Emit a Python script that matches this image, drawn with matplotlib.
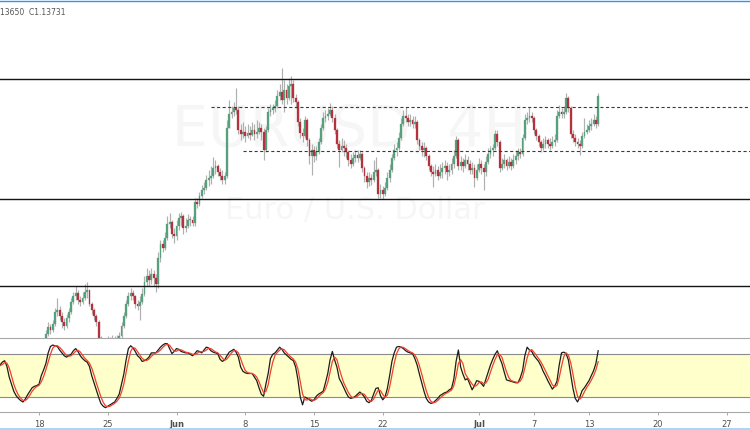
import numpy as np
import pandas as pd
import matplotlib
matplotlib.use("Agg")
import matplotlib.pyplot as plt
from matplotlib.lines import Line2D

# ---------------- data (EUR/USD, 4H bars, weekends skipped) ----------------
first_bar_day = "2020-05-13"
bars_per_day = 6
first_open = 1.0850

closes = [
    1.0855, 1.0858, 1.0862, 1.0850, 1.0838, 1.0822, 1.0808, 1.0795, 1.0788, 1.0792,
    1.0800, 1.0806, 1.0812, 1.0818, 1.0822, 1.0815, 1.0820, 1.0818,
    1.0888, 1.0892, 1.0896, 1.0910, 1.0924, 1.0918, 1.0930, 1.0954, 1.0958, 1.0946,
    1.0934, 1.0926, 1.0942, 1.0954, 1.0974, 1.0986, 1.0992, 1.0978, 1.0974, 1.0982,
    1.0994, 1.0998, 1.0970, 1.0958, 1.0946, 1.0934, 1.0902, 1.0890, 1.0886, 1.0882,
    1.0888, 1.0886, 1.0892, 1.0890, 1.0894, 1.0906, 1.0926, 1.0946, 1.0970, 1.0986,
    1.0992, 1.0986, 1.0970, 1.0966, 1.0974, 1.0990, 1.1014, 1.1026, 1.1018, 1.1030,
    1.1022, 1.1010, 1.1062, 1.1090, 1.1082, 1.1102, 1.1130, 1.1134, 1.1110, 1.1106,
    1.1126, 1.1142, 1.1146, 1.1122, 1.1126, 1.1138, 1.1138, 1.1132, 1.1174, 1.1170,
    1.1186, 1.1198, 1.1202, 1.1218, 1.1222, 1.1226, 1.1242, 1.1246, 1.1234, 1.1226,
    1.1218, 1.1226, 1.1322, 1.1350, 1.1354, 1.1362, 1.1358, 1.1318, 1.1310, 1.1314,
    1.1306, 1.1312, 1.1308, 1.1318, 1.1310, 1.1314, 1.1322, 1.1314, 1.1278, 1.1318,
    1.1354, 1.1358, 1.1362, 1.1366, 1.1386, 1.1394, 1.1378, 1.1398, 1.1382, 1.1406,
    1.1410, 1.1382, 1.1374, 1.1334, 1.1312, 1.1306, 1.1338, 1.1298, 1.1266, 1.1278,
    1.1266, 1.1274, 1.1294, 1.1322, 1.1342, 1.1346, 1.1350, 1.1358, 1.1342, 1.1318,
    1.1290, 1.1278, 1.1286, 1.1282, 1.1274, 1.1258, 1.1250, 1.1262, 1.1268, 1.1262,
    1.1270, 1.1242, 1.1226, 1.1214, 1.1222, 1.1218, 1.1234, 1.1238, 1.1190, 1.1198,
    1.1190, 1.1202, 1.1222, 1.1238, 1.1262, 1.1278, 1.1282, 1.1302, 1.1330, 1.1346,
    1.1342, 1.1334, 1.1338, 1.1330, 1.1334, 1.1298, 1.1286, 1.1278, 1.1282, 1.1266,
    1.1246, 1.1234, 1.1230, 1.1238, 1.1226, 1.1234, 1.1242, 1.1246, 1.1234, 1.1238,
    1.1250, 1.1266, 1.1298, 1.1246, 1.1254, 1.1246, 1.1258, 1.1250, 1.1238, 1.1242,
    1.1222, 1.1238, 1.1250, 1.1242, 1.1234, 1.1254, 1.1270, 1.1278, 1.1282, 1.1310,
    1.1294, 1.1242, 1.1250, 1.1258, 1.1246, 1.1254, 1.1246, 1.1258, 1.1266, 1.1274,
    1.1270, 1.1302, 1.1338, 1.1342, 1.1346, 1.1342, 1.1318, 1.1306, 1.1294, 1.1282,
    1.1290, 1.1298, 1.1290, 1.1286, 1.1294, 1.1298, 1.1346, 1.1354, 1.1350, 1.1354,
    1.1382, 1.1362, 1.1310, 1.1302, 1.1294, 1.1290, 1.1286, 1.1306, 1.1314, 1.1318,
    1.1326, 1.1330, 1.1338, 1.1330, 1.1386,
]

highs = [
    1.0862, 1.0866, 1.0870, 1.0865, 1.0852, 1.0840, 1.0825, 1.0812, 1.0800, 1.0800,
    1.0808, 1.0812, 1.0822, 1.0828, 1.0832, 1.0830, 1.0828, 1.0826,
    1.0896, 1.0898, 1.0900, 1.0918, 1.0934, 1.0930, 1.0938, 1.0962, 1.0982, 1.0966,
    1.0954, 1.0942, 1.0950, 1.0962, 1.0982, 1.0994, 1.1006, 1.0998, 1.0986, 1.0994,
    1.1010, 1.1014, 1.0998, 1.0974, 1.0962, 1.0950, 1.0938, 1.0906, 1.0902, 1.0898,
    1.0906, 1.0904, 1.0908, 1.0906, 1.0908, 1.0914, 1.0934, 1.0954, 1.0978, 1.0994,
    1.1002, 1.0998, 1.0988, 1.0978, 1.0986, 1.1002, 1.1026, 1.1042, 1.1038, 1.1042,
    1.1038, 1.1030, 1.1074, 1.1098, 1.1098, 1.1114, 1.1146, 1.1152, 1.1138, 1.1122,
    1.1138, 1.1152, 1.1154, 1.1150, 1.1142, 1.1150, 1.1146, 1.1146, 1.1182, 1.1182,
    1.1194, 1.1208, 1.1214, 1.1228, 1.1238, 1.1246, 1.1264, 1.1258, 1.1250, 1.1242,
    1.1238, 1.1234, 1.1338, 1.1378, 1.1366, 1.1374, 1.1402, 1.1366, 1.1330, 1.1334,
    1.1326, 1.1330, 1.1326, 1.1334, 1.1330, 1.1338, 1.1334, 1.1330, 1.1322, 1.1326,
    1.1362, 1.1370, 1.1370, 1.1378, 1.1398, 1.1410, 1.1442, 1.1418, 1.1410, 1.1422,
    1.1426, 1.1418, 1.1390, 1.1378, 1.1342, 1.1322, 1.1346, 1.1342, 1.1302, 1.1290,
    1.1286, 1.1286, 1.1302, 1.1330, 1.1354, 1.1358, 1.1362, 1.1372, 1.1366, 1.1350,
    1.1322, 1.1298, 1.1302, 1.1298, 1.1290, 1.1278, 1.1270, 1.1274, 1.1278, 1.1278,
    1.1278, 1.1274, 1.1246, 1.1234, 1.1234, 1.1230, 1.1258, 1.1264, 1.1242, 1.1210,
    1.1206, 1.1214, 1.1234, 1.1250, 1.1270, 1.1290, 1.1294, 1.1314, 1.1342, 1.1358,
    1.1364, 1.1350, 1.1350, 1.1346, 1.1346, 1.1338, 1.1302, 1.1294, 1.1294, 1.1286,
    1.1270, 1.1250, 1.1246, 1.1250, 1.1246, 1.1250, 1.1254, 1.1258, 1.1254, 1.1250,
    1.1262, 1.1278, 1.1306, 1.1302, 1.1266, 1.1262, 1.1270, 1.1266, 1.1258, 1.1254,
    1.1250, 1.1250, 1.1262, 1.1258, 1.1250, 1.1266, 1.1282, 1.1286, 1.1290, 1.1318,
    1.1318, 1.1298, 1.1262, 1.1270, 1.1262, 1.1266, 1.1262, 1.1270, 1.1278, 1.1282,
    1.1282, 1.1310, 1.1350, 1.1354, 1.1364, 1.1354, 1.1346, 1.1322, 1.1310, 1.1298,
    1.1302, 1.1306, 1.1302, 1.1302, 1.1306, 1.1310, 1.1358, 1.1368, 1.1362, 1.1366,
    1.1392, 1.1386, 1.1366, 1.1318, 1.1310, 1.1302, 1.1298, 1.1314, 1.1342, 1.1330,
    1.1338, 1.1342, 1.1350, 1.1346, 1.1392,
]

lows = [
    1.0848, 1.0850, 1.0852, 1.0845, 1.0830, 1.0815, 1.0800, 1.0785, 1.0776, 1.0780,
    1.0787, 1.0795, 1.0802, 1.0806, 1.0810, 1.0808, 1.0810, 1.0810,
    1.0878, 1.0882, 1.0886, 1.0894, 1.0906, 1.0910, 1.0914, 1.0926, 1.0946, 1.0938,
    1.0922, 1.0918, 1.0922, 1.0934, 1.0950, 1.0970, 1.0978, 1.0970, 1.0966, 1.0970,
    1.0978, 1.0982, 1.0966, 1.0950, 1.0938, 1.0926, 1.0894, 1.0882, 1.0878, 1.0874,
    1.0878, 1.0878, 1.0882, 1.0880, 1.0884, 1.0888, 1.0902, 1.0922, 1.0942, 1.0966,
    1.0978, 1.0978, 1.0962, 1.0958, 1.0938, 1.0970, 1.0986, 1.1006, 1.1006, 1.1010,
    1.1006, 1.0994, 1.1002, 1.1054, 1.1074, 1.1078, 1.1098, 1.1122, 1.1102, 1.1092,
    1.1098, 1.1118, 1.1126, 1.1110, 1.1114, 1.1122, 1.1126, 1.1126, 1.1126, 1.1162,
    1.1166, 1.1182, 1.1190, 1.1198, 1.1206, 1.1210, 1.1222, 1.1230, 1.1226, 1.1218,
    1.1210, 1.1210, 1.1222, 1.1326, 1.1342, 1.1346, 1.1350, 1.1310, 1.1298, 1.1302,
    1.1294, 1.1302, 1.1298, 1.1306, 1.1298, 1.1302, 1.1310, 1.1298, 1.1258, 1.1274,
    1.1314, 1.1346, 1.1350, 1.1354, 1.1362, 1.1378, 1.1370, 1.1354, 1.1370, 1.1378,
    1.1370, 1.1374, 1.1362, 1.1326, 1.1302, 1.1294, 1.1302, 1.1286, 1.1250, 1.1228,
    1.1254, 1.1258, 1.1270, 1.1290, 1.1318, 1.1334, 1.1338, 1.1346, 1.1334, 1.1310,
    1.1282, 1.1244, 1.1274, 1.1266, 1.1262, 1.1246, 1.1242, 1.1246, 1.1254, 1.1254,
    1.1258, 1.1234, 1.1214, 1.1202, 1.1206, 1.1208, 1.1214, 1.1226, 1.1182, 1.1182,
    1.1180, 1.1186, 1.1198, 1.1214, 1.1234, 1.1258, 1.1266, 1.1278, 1.1298, 1.1326,
    1.1334, 1.1326, 1.1326, 1.1322, 1.1322, 1.1290, 1.1278, 1.1266, 1.1264, 1.1258,
    1.1238, 1.1226, 1.1204, 1.1226, 1.1218, 1.1222, 1.1222, 1.1230, 1.1218, 1.1226,
    1.1230, 1.1242, 1.1262, 1.1238, 1.1238, 1.1234, 1.1242, 1.1238, 1.1230, 1.1230,
    1.1204, 1.1218, 1.1234, 1.1230, 1.1198, 1.1226, 1.1250, 1.1262, 1.1266, 1.1278,
    1.1286, 1.1234, 1.1238, 1.1242, 1.1238, 1.1242, 1.1238, 1.1242, 1.1250, 1.1258,
    1.1262, 1.1266, 1.1298, 1.1330, 1.1334, 1.1334, 1.1310, 1.1298, 1.1286, 1.1274,
    1.1278, 1.1282, 1.1282, 1.1278, 1.1282, 1.1286, 1.1294, 1.1342, 1.1342, 1.1342,
    1.1350, 1.1354, 1.1302, 1.1294, 1.1286, 1.1282, 1.1268, 1.1282, 1.1302, 1.1310,
    1.1314, 1.1318, 1.1326, 1.1322, 1.1326,
]

stoch_k = [
    63, 65, 69, 71, 63, 48, 38, 28, 22, 18, 15, 13, 17, 23, 28, 33, 35, 36,
    38, 50, 58, 67, 82, 91, 93, 92, 91, 86,
    82, 78, 76, 78, 80, 85, 88, 84, 78, 74,
    71, 69, 63, 50, 40, 30, 20, 11, 7, 5,
    7, 9, 11, 13, 18, 24, 38, 52, 72, 88,
    92, 89, 84, 78, 75, 70, 71, 73, 76, 82,
    82, 82, 86, 90, 93, 95, 95, 88, 81, 84,
    88, 87, 84, 83, 82, 82, 80, 78, 81, 85,
    84, 82, 86, 90, 89, 85, 83, 82, 81, 73,
    70, 72, 78, 83, 85, 87, 83, 76, 62, 56,
    54, 53, 53, 53, 48, 43, 33, 24, 21, 38,
    53, 74, 80, 82, 86, 90, 87, 82, 79, 76,
    73, 71, 62, 44, 20, 9, 20, 18, 16, 14,
    16, 21, 24, 26, 28, 40, 53, 72, 84, 72,
    62, 46, 40, 33, 26, 20, 18, 19, 21, 24,
    27, 24, 20, 14, 12, 15, 24, 32, 33, 22,
    16, 20, 32, 50, 70, 82, 90, 91, 90, 88,
    85, 83, 82, 81, 74, 65, 52, 40, 28, 18,
    13, 11, 12, 15, 18, 22, 24, 26, 27, 30,
    32, 45, 70, 86, 62, 52, 44, 46, 38, 30,
    36, 43, 42, 39, 35, 45, 55, 65, 73, 80,
    85, 75, 67, 55, 44, 43, 42, 41, 40, 40,
    47, 57, 78, 90, 86, 84, 78, 74, 70, 64,
    56, 50, 43, 37, 31, 35, 42, 65, 82, 83,
    81, 72, 52, 32, 18, 13, 20, 29, 33, 38,
    43, 50, 57, 67, 85,
]
stoch_d_length = 3

tick_dates = ["2020-05-18", "2020-05-25", "2020-06-01", "2020-06-08", "2020-06-15",
              "2020-06-22", "2020-07-01", "2020-07-07", "2020-07-13", "2020-07-20",
              "2020-07-27"]
tick_labels = ["18", "25", "Jun", "8", "15", "22", "Jul", "7", "13", "20", "27"]
month_labels = ["Jun", "Jul"]

solid_levels = [1.1420, 1.1180, 1.1006]
dashed_levels = [1.1364, 1.1276]
dashed_from = ["2020-06-03 12:00", "2020-06-05 20:00"]

watermark_title = "EURUSD, 4H"
watermark_sub = "Euro / U.S. Dollar"
legend_text = "13650  C1.13731"

# ---------------- derived ----------------
days = pd.bdate_range(first_bar_day, periods=60)
bar_times = pd.DatetimeIndex([d + pd.Timedelta(hours=4 * k) for d in days for k in range(bars_per_day)])
pos = pd.Series(np.arange(len(bar_times)), index=bar_times)

c = np.array(closes)
h = np.array(highs)
l = np.array(lows)
o = np.r_[first_open, c[:-1]]
h = np.maximum(h, np.maximum(o, c))
l = np.minimum(l, np.minimum(o, c))
x = np.arange(len(c))
k = pd.Series(stoch_k, dtype=float)
d = k.rolling(stoch_d_length, min_periods=1).mean()

# ---------------- figure ----------------
W, H = 750, 430
fig = plt.figure(figsize=(W / 100, H / 100), dpi=100)
fig.patch.set_facecolor("white")

ax = fig.add_axes([0, (H - 338) / H, 1, 336 / H])
ax2 = fig.add_axes([0, (H - 412) / H, 1, 74 / H], sharex=ax)

x0 = 0.98
x1 = x0 + W / 2.2917
ax.set_xlim(x0, x1)
ax.set_ylim(1.0902, 1.1574)
ax2.set_ylim(-1.1, 102.9)

green = "#56a07e"
red = "#b3323e"
wick = "#b0b0b0"

ax.vlines(x, l, h, color=wick, lw=0.85, zorder=2)
body = c - o
minb = 0.00012
body = np.where(np.abs(body) < minb, np.where(body >= 0, minb, -minb), body)
up = c >= o
ax.bar(x[up], body[up], bottom=o[up], width=0.8, color=green, edgecolor=green,
       linewidth=0.2, zorder=3)
ax.bar(x[~up], body[~up], bottom=o[~up], width=0.8, color=red, edgecolor=red,
       linewidth=0.2, zorder=3)

for lv in solid_levels:
    ax.axhline(lv, color="#151515", lw=1.0, zorder=4)
for lv, t0 in zip(dashed_levels, dashed_from):
    xs = pos[pd.Timestamp(t0)]
    ax.hlines(lv, xs, x1 + 5, colors="#3a3a3a", lw=0.8, linestyles=(0, (2.8, 2.2)), zorder=4)

ax.text(0.465, 0.616, watermark_title, transform=ax.transAxes, ha="center", va="center",
        fontsize=41, color="#f6f6f6", zorder=0)
ax.text(0.473, 0.378, watermark_sub, transform=ax.transAxes, ha="center", va="center",
        fontsize=22, color="#f6f6f6", zorder=0)

ax.set_xticks([])
ax.set_yticks([])
for s in ax.spines.values():
    s.set_visible(False)

# stochastic pane
ax2.axhspan(20, 80, color="#ffffcc", zorder=0, lw=0)
ax2.axhline(80, color="#8a8a8a", lw=0.8, zorder=1)
ax2.axhline(20, color="#8a8a8a", lw=0.8, zorder=1)
ax2.plot(x, k.values, color="#1c1c1c", lw=0.9, zorder=3)
ax2.plot(x, d.values, color="#f2402f", lw=0.9, zorder=4)

for side in ["left", "right"]:
    ax2.spines[side].set_visible(False)
for side in ["top", "bottom"]:
    ax2.spines[side].set_color("#a8a8a8")
    ax2.spines[side].set_linewidth(0.8)
ax2.set_yticks([])
tick_pos = [pos[pd.Timestamp(t)] for t in tick_dates]
ax2.set_xticks(tick_pos)
ax2.set_xticklabels(tick_labels)
ax2.tick_params(axis="x", direction="out", length=2.5, width=0.7, color="#a8a8a8",
                labelsize=6, labelcolor="#505050", pad=3)
for lab in ax2.get_xticklabels():
    if lab.get_text() in month_labels:
        lab.set_fontweight("bold")
ax2.set_xlim(x0, x1)

fig.text(0.0, 1 - 12.5 / H, legend_text, ha="left", va="center", fontsize=5.5, color="#555555")
fig.add_artist(Line2D([0, 1], [1 - 0.6 / H] * 2, transform=fig.transFigure, color="#2a96f0", lw=1.0))
fig.add_artist(Line2D([0, 1], [1.2 / H] * 2, transform=fig.transFigure, color="#9fcdf2", lw=1.2))

fig.savefig("out.png", dpi=100)
